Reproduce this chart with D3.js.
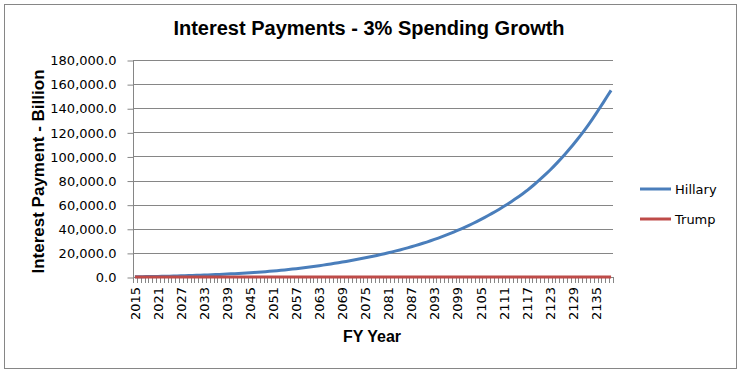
<!DOCTYPE html>
<html>
<head>
<meta charset="utf-8">
<script src="https://cdn.jsdelivr.net/npm/d3@7"></script>
<style>
  body { margin: 0; background: #fff; }
  svg { display: block; }
</style>
</head>
<body>
<svg id="chart" width="741" height="373"></svg>
<script>
// fiscal years on the category axis
const years = d3.range(2015, 2140);

// interest payments, billions
const hillary = [
  223, 255, 295, 340, 390, 445, 505, 570, 640, 715,
  795, 880, 970, 1065, 1165, 1270, 1380, 1495, 1615, 1740,
  1870, 2005, 2145, 2290, 2440, 2600, 2765, 2940, 3120, 3310,
  3550, 3755, 3970, 4200, 4440, 4695, 4965, 5250, 5550, 5865,
  6195, 6540, 6900, 7275, 7665, 8070, 8490, 8925, 9375, 9840,
  10320, 10815, 11320, 11840, 12375, 12925, 13490, 14070, 14665, 15275,
  15900, 16545, 17210, 17895, 18600, 19325, 20070, 20840, 21635, 22455,
  23300, 24170, 25070, 26000, 26960, 27955, 28985, 30050, 31150, 32290,
  33470, 34690, 35950, 37250, 38590, 39975, 41400, 42870, 44390, 45960,
  47580, 49250, 50970, 52745, 54580, 56470, 58420, 60430, 62500, 64640,
  66850, 69130, 71480, 74050, 76720, 79480, 82340, 85300, 88370, 91550,
  94850, 98270, 101800, 105470, 109270, 113200, 117270, 121490, 125860, 130390,
  135090, 139950, 144900, 149900, 154800
];
const trump = years.map(() => 0);

const yTicks = [0, 20000, 40000, 60000, 80000, 100000, 120000, 140000, 160000, 180000];
const seriesNames = ["Hillary", "Trump"];
const seriesColors = ["#4a7ebb", "#be4b48"];

const svg = d3.select("#chart");

// outer frame
svg.append("rect")
  .attr("x", 4.5).attr("y", 4.5)
  .attr("width", 732).attr("height", 364)
  .attr("fill", "#fff")
  .attr("stroke", "#868686");

const plotLeft = 133, plotRight = 613, plotTop = 60, plotBottom = 277;

const x = d3.scaleBand().domain(years).range([plotLeft, plotRight]).padding(0);
const y = d3.scaleLinear().domain([0, 180000]).range([plotBottom, plotTop]);

// grid lines
svg.append("g")
  .selectAll("line")
  .data(yTicks.slice(1))
  .join("line")
  .attr("x1", plotLeft).attr("x2", plotRight)
  .attr("y1", d => Math.round(y(d)) + 0.5)
  .attr("y2", d => Math.round(y(d)) + 0.5)
  .attr("stroke", "#868686");

// y axis
const yAxis = svg.append("g")
  .attr("transform", `translate(${plotLeft + 0.5},0.5)`)
  .call(d3.axisLeft(y).tickValues(yTicks).tickSize(6).tickPadding(11)
    .tickFormat(d3.format(",.1f")));
yAxis.select(".domain").attr("stroke", "#868686").attr("d", `M0,${plotTop}V${plotBottom}`);
yAxis.selectAll(".tick line").attr("stroke", "#868686");
yAxis.selectAll("text")
  .attr("font-family", "DejaVu Sans")
  .attr("font-size", 13)
  .attr("fill", "#000");

// x axis line + ticks between categories
const xg = svg.append("g");
xg.append("line")
  .attr("x1", plotLeft).attr("x2", plotRight)
  .attr("y1", plotBottom + 0.5).attr("y2", plotBottom + 0.5)
  .attr("stroke", "#868686");
xg.selectAll("line.tk")
  .data(years.concat([null]))
  .join("line")
  .attr("class", "tk")
  .attr("x1", d => Math.round(d === null ? plotRight : x(d)) + 0.5)
  .attr("x2", d => Math.round(d === null ? plotRight : x(d)) + 0.5)
  .attr("y1", plotBottom).attr("y2", plotBottom + 6)
  .attr("stroke", "#868686");

xg.selectAll("text")
  .data(years.filter((d, i) => i % 6 === 0))
  .join("text")
  .attr("transform", d => `translate(${x(d) + x.bandwidth() / 2 + 5},${plotBottom + 10}) rotate(-90)`)
  .attr("text-anchor", "end")
  .attr("font-family", "DejaVu Sans")
  .attr("font-size", 13)
  .text(d => d);

// lines
const line = d3.line()
  .x((d, i) => x(years[i]) + x.bandwidth() / 2)
  .y(d => y(d));

[hillary, trump].forEach((s, i) => {
  svg.append("path")
    .datum(s)
    .attr("fill", "none")
    .attr("stroke", seriesColors[i])
    .attr("stroke-width", 3)
    .attr("stroke-linejoin", "round")
    .attr("d", line);
});

// title
svg.append("text")
  .attr("x", 369).attr("y", 35)
  .attr("text-anchor", "middle")
  .attr("font-family", "Liberation Sans, Arial")
  .attr("font-weight", "bold")
  .attr("font-size", 20)
  .text("Interest Payments - 3% Spending Growth");

// axis titles
svg.append("text")
  .attr("transform", `translate(44,${(plotTop + plotBottom) / 2 + 3}) rotate(-90)`)
  .attr("text-anchor", "middle")
  .attr("font-family", "Liberation Sans, Arial")
  .attr("font-weight", "bold")
  .attr("font-size", 17)
  .text("Interest Payment - Billion");

svg.append("text")
  .attr("x", 372).attr("y", 342)
  .attr("text-anchor", "middle")
  .attr("font-family", "Liberation Sans, Arial")
  .attr("font-weight", "bold")
  .attr("font-size", 16)
  .text("FY Year");

// legend
const legend = svg.append("g")
  .selectAll("g")
  .data(seriesNames)
  .join("g")
  .attr("transform", (d, i) => `translate(640,${189 + i * 30})`);
legend.append("line")
  .attr("x1", 0).attr("x2", 31)
  .attr("stroke", (d, i) => seriesColors[i])
  .attr("stroke-width", 3);
legend.append("text")
  .attr("x", 35).attr("y", 5)
  .attr("font-family", "DejaVu Sans")
  .attr("font-size", 13)
  .text(d => d);
</script>
</body>
</html>
